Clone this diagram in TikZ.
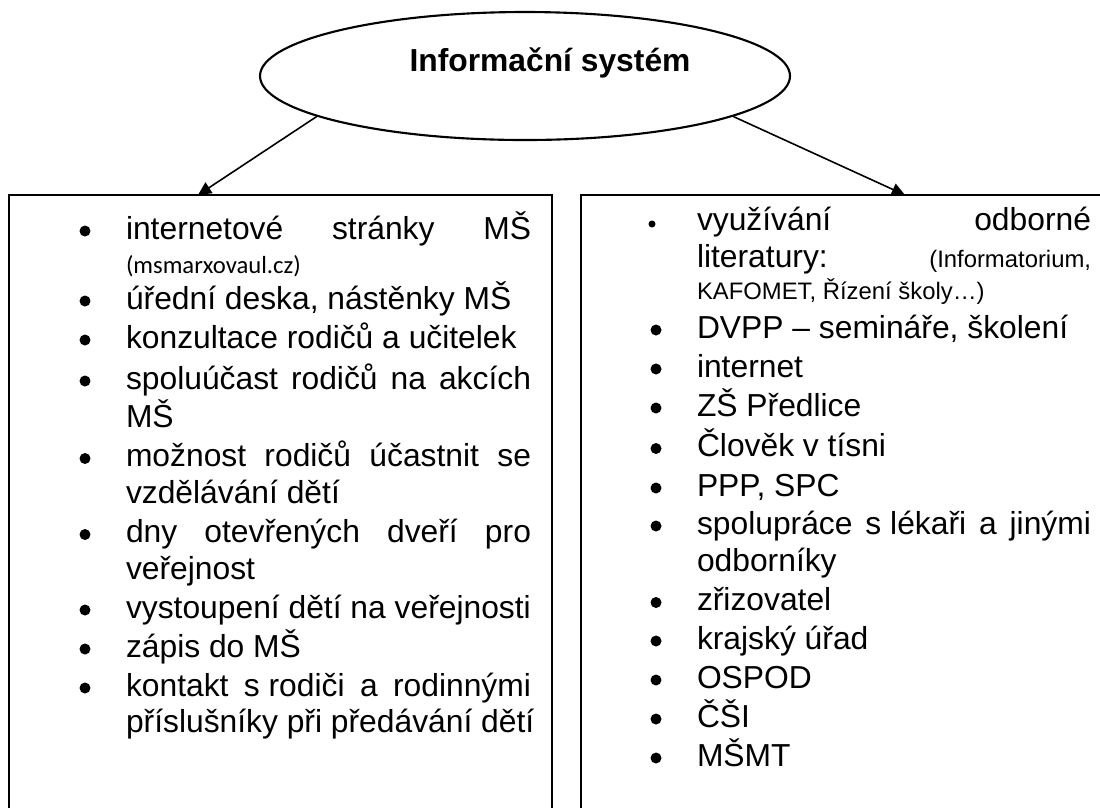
\documentclass[tikz,border=0pt]{standalone}
\usepackage{fontspec}
\setmainfont{Liberation Sans}
\newfontfamily\calib{Carlito}
\usetikzlibrary{shapes.geometric,arrows.meta}
\newdimen\pxd \pxd=0.37736pt
\newcommand\justL[1]{\hbox to 405\pxd{#1}}
\newcommand\justR[1]{\hbox to 394\pxd{#1}}
\tikzset{
  txt/.style={anchor=base west, inner sep=0pt, outer sep=0pt, font=\fontsize{12pt}{14pt}\selectfont},
  sml/.style={txt, font=\fontsize{9pt}{11pt}\selectfont},
  cal/.style={txt, font=\calib\fontsize{9.3pt}{11pt}\selectfont},
  bul/.style={circle, fill=black, draw=none, inner sep=0pt, minimum size=4.15pt},
  bulsm/.style={circle, fill=black, draw=none, inner sep=0pt, minimum size=2.64pt},
  boxline/.style={draw=black, line width=0.85pt},
  arr/.style={draw=black, line width=0.6pt, -{Triangle[length=5pt, width=4.8pt]}},
}
\begin{document}
\begin{tikzpicture}[x=0.37736pt, y=-0.37736pt]
\useasboundingbox (0,0) rectangle (1100,807);
\clip (0,0) rectangle (1100,807);
% top ellipse
\node[ellipse, draw=black, line width=0.8pt, minimum width=200pt, minimum height=48.3pt, inner sep=0pt] (is) at (525,76) {};
\node[anchor=base, inner sep=0pt, font=\bfseries\fontsize{12pt}{14pt}\selectfont] (ist) at (550,71) {Informační systém};
% boxes
\draw[boxline] (9,830) -- (9,195) -- (552,195) -- (552,830);
\draw[boxline] (581,830) -- (581,195) -- (1110,195);
% connectors
\coordinate (ltip) at (198,195);
\coordinate (rtip) at (905,195);
\draw[arr] (is.191) -- (ltip);
\draw[arr] (is.349) -- (rtip);
% left column
\node[txt] (l1) at (126,239) {\justL{internetové\hfill stránky\hfill MŠ}};
\node[cal] (l2) at (126,273) {(msmarxovaul.cz)};
\node[txt] (l3) at (126,309) {úřední deska, nástěnky MŠ};
\node[txt] (l4) at (126,348) {konzultace rodičů a učitelek};
\node[txt] (l5) at (126,389) {\justL{spoluúčast\hfill rodičů\hfill na\hfill akcích}};
\node[txt] (l6) at (126,427) {MŠ};
\node[txt] (l7) at (126,466.5) {\justL{možnost\hfill rodičů\hfill účastnit\hfill se}};
\node[txt] (l8) at (126,503) {vzdělávání dětí};
\node[txt] (l9) at (126,542.5) {\justL{dny\hfill otevřených\hfill dveří\hfill pro}};
\node[txt] (l10) at (126,579) {veřejnost};
\node[txt] (l11) at (126,618) {vystoupení dětí na veřejnosti};
\node[txt] (l12) at (126,657) {zápis do MŠ};
\node[txt] (l13) at (126,696) {\justL{kontakt\hfill s~rodiči\hfill a\hfill rodinnými}};
\node[txt] (l14) at (126,732) {příslušníky při předávání dětí};
\node[bul] (lb1) at (85,231) {};
\node[bul] (lb3) at (85,301) {};
\node[bul] (lb4) at (85,340) {};
\node[bul] (lb5) at (85,381) {};
\node[bul] (lb7) at (85,458.5) {};
\node[bul] (lb9) at (85,534.5) {};
\node[bul] (lb11) at (85,610) {};
\node[bul] (lb12) at (85,649) {};
\node[bul] (lb13) at (85,688) {};
% right column
\node[txt] (r1) at (697,230) {\justR{využívání\hfill odborné}};
\node[txt] (r2a) at (697,267) {literatury:};
\node[sml, anchor=base east] (r2b) at (1091,267) {(Informatorium,};
\node[sml] (r3) at (697,299) {KAFOMET, Řízení školy…)};
\node[txt] (r4) at (697,338) {DVPP – semináře, školení};
\node[txt] (r5) at (697,377) {internet};
\node[txt] (r6) at (697,416) {ZŠ Předlice};
\node[txt] (r7) at (697,456.5) {Člověk v tísni};
\node[txt] (r8) at (697,496) {PPP, SPC};
\node[txt] (r9) at (697,534) {\justR{spolupráce\hfill s~lékaři\hfill a\hfill jinými}};
\node[txt] (r10) at (697,571) {odborníky};
\node[txt] (r11) at (697,610.5) {zřizovatel};
\node[txt] (r12) at (697,649) {krajský úřad};
\node[txt] (r13) at (697,688) {OSPOD};
\node[txt] (r14) at (697,727) {ČŠI};
\node[txt] (r15) at (697,766) {MŠMT};
\node[bulsm] (rb1) at (652,224) {};
\node[bul] (rb4) at (656,330) {};
\node[bul] (rb5) at (656,369) {};
\node[bul] (rb6) at (656,408) {};
\node[bul] (rb7) at (656,448.5) {};
\node[bul] (rb8) at (656,488) {};
\node[bul] (rb9) at (656,526) {};
\node[bul] (rb11) at (656,602.5) {};
\node[bul] (rb12) at (656,641) {};
\node[bul] (rb13) at (656,680) {};
\node[bul] (rb14) at (656,719) {};
\node[bul] (rb15) at (656,758) {};
\end{tikzpicture}
\end{document}
